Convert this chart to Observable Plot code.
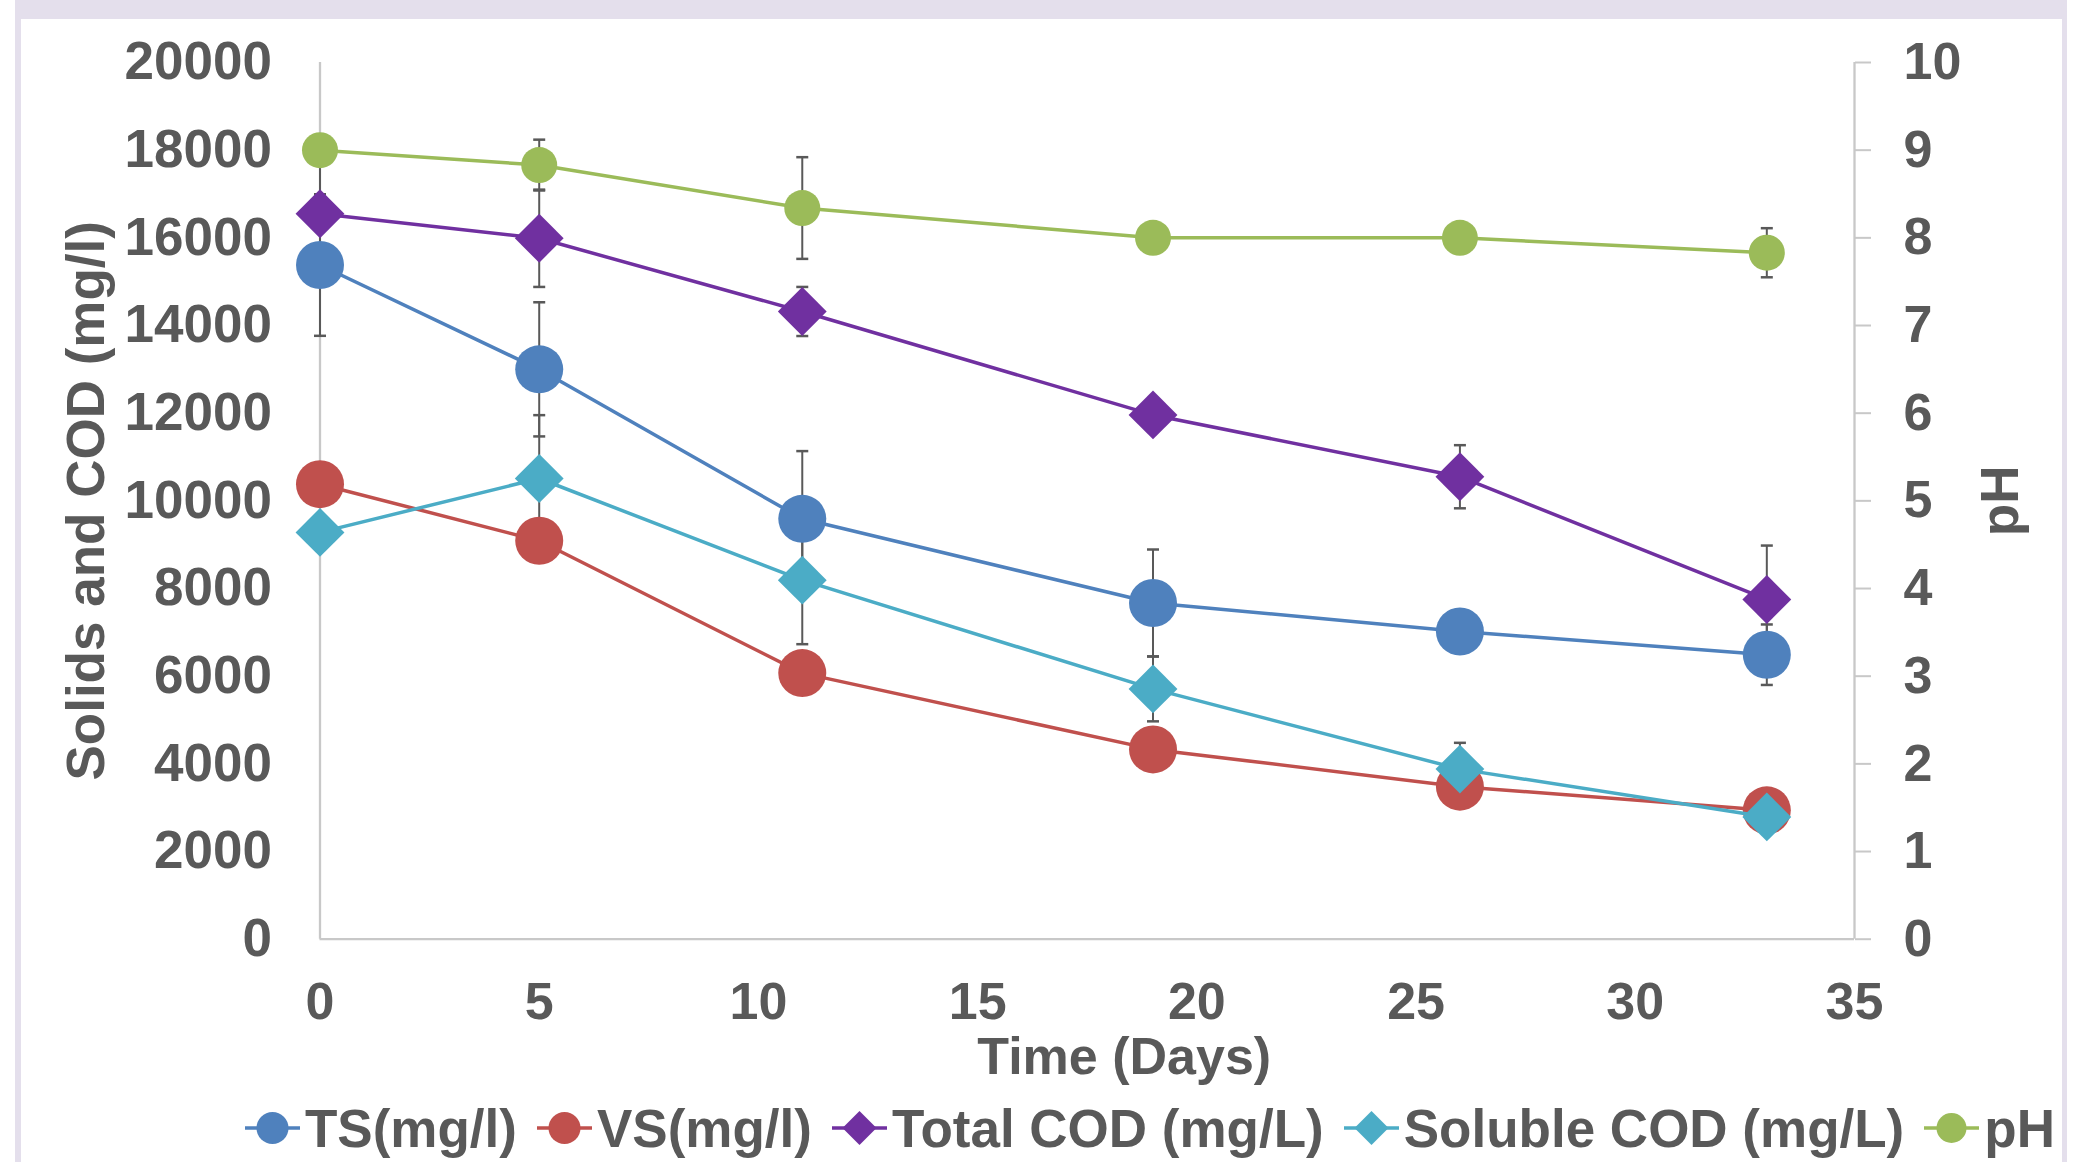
<!DOCTYPE html>
<html>
<head>
<meta charset="utf-8">
<script src="https://cdn.jsdelivr.net/npm/d3@7"></script>
<script src="https://cdn.jsdelivr.net/npm/@observablehq/plot@0.6"></script>
<style>
html, body { margin: 0; padding: 0; background: #fff; overflow: hidden; }
#wrap { position: relative; width: 2090px; height: 1162px; }
#frame { position: absolute; left: 15px; top: 0; width: 2052px; height: 1162px; background: #e4dfec; }
#inner { position: absolute; left: 6px; top: 19px; width: 2041px; height: 1143px; background: #fff; }
#chart { position: absolute; left: 0; top: 0; }
#chart svg { font-family: "Liberation Sans", Arial, sans-serif; font-weight: 700; overflow: visible; }
#legend { position: absolute; left: 245px; top: 1098px; height: 60px; display: flex; align-items: center;
  font-family: "Liberation Sans", Arial, sans-serif; font-weight: 700; font-size: 53px; color: #595959; white-space: nowrap; }
.item { display: flex; align-items: center; margin-right: 20px; }
.item svg { margin-right: 5px; display: block; }
</style>
</head>
<body>
<div id="wrap">
  <div id="frame"><div id="inner"></div></div>
  <div id="chart"></div>
  <div id="legend"></div>
</div>
<script>
// ---- data ----
const days = [0, 5, 11, 19, 26, 33];
const tsValues   = [15380, 13000, 9590, 7670, 7020, 6490];
const tsErr      = [1615, 1530, 1545, 1220, 0, 690];
const vsValues   = [10380, 9090, 6070, 4330, 3480, 2940];
const vsErr      = [0, 0, 0, 0, 0, 0];
const tcodValues = [16550, 15990, 14320, 11960, 10550, 7750];
const tcodErr    = [1150, 1110, 560, 0, 720, 1230];
const scodValues = [9280, 10510, 8190, 5710, 3880, 2790];
const scodErr    = [0, 1445, 1460, 740, 600, 0];
const phValues   = [9.00, 8.83, 8.34, 8.00, 8.00, 7.83];
const phErr      = [0, 0.29, 0.58, 0, 0, 0.28];

const xTicks  = [0, 5, 10, 15, 20, 25, 30, 35];
const yTicks  = [0, 2000, 4000, 6000, 8000, 10000, 12000, 14000, 16000, 18000, 20000];
const phTicks = [0, 1, 2, 3, 4, 5, 6, 7, 8, 9, 10];
const seriesNames = ["TS(mg/l)", "VS(mg/l)", "Total COD (mg/L)", "Soluble COD (mg/L)", "pH"];
const xTitle = "Time (Days)";
const yTitle = "Solids and COD (mg/l)";
const y2Title = "pH";

// ---- scales ----
const Y_MAX = 20000, PH_MAX = 10, X_MAX = 35;
const PH_FACTOR = Y_MAX / PH_MAX;

const series = [
  {name: seriesNames[0], values: tsValues,   err: tsErr,   k: 1,         color: "#4f81bd", symbol: "circle",   r: 24, lr: 16},
  {name: seriesNames[1], values: vsValues,   err: vsErr,   k: 1,         color: "#c0504d", symbol: "circle",   r: 24, lr: 16},
  {name: seriesNames[2], values: tcodValues, err: tcodErr, k: 1,         color: "#7030a0", symbol: "diamond2", r: 22, lr: 17},
  {name: seriesNames[3], values: scodValues, err: scodErr, k: 1,         color: "#4bacc6", symbol: "diamond2", r: 22, lr: 17},
  {name: seriesNames[4], values: phValues,   err: phErr,   k: PH_FACTOR, color: "#9bbb59", symbol: "circle",   r: 18, lr: 15}
];

const rowsOf = s => days.map((day, i) => ({
  day,
  y: s.values[i] * s.k,
  lo: (s.values[i] - s.err[i]) * s.k,
  hi: (s.values[i] + s.err[i]) * s.k,
  err: s.err[i]
}));

const capSymbol = { draw(ctx, size) { ctx.moveTo(-6, 0); ctx.lineTo(6, 0); } };
const ERR = "#595959", AXIS = "#c8c8c8", TEXT = "#595959";

const errMarks = series.flatMap(s => {
  const d = rowsOf(s).filter(r => r.err > 0);
  return [
    Plot.ruleX(d, {x: "day", y1: "lo", y2: "hi", stroke: ERR, strokeWidth: 2}),
    Plot.dot(d, {x: "day", y: "lo", symbol: capSymbol, r: 6, stroke: ERR, fill: "none", strokeWidth: 2.5}),
    Plot.dot(d, {x: "day", y: "hi", symbol: capSymbol, r: 6, stroke: ERR, fill: "none", strokeWidth: 2.5})
  ];
});

const seriesMarks = series.flatMap(s => [
  Plot.line(rowsOf(s), {x: "day", y: "y", stroke: s.color, strokeWidth: 3.5}),
  Plot.dot(rowsOf(s), {x: "day", y: "y", symbol: s.symbol, r: s.r, fill: s.color, stroke: "none"})
]);

const H = 1095;
const chart = Plot.plot({
  width: 2090,
  height: H,
  marginLeft: 319.5,
  marginRight: 236,
  marginTop: 62,
  marginBottom: H - 938.7,
  x: {domain: [0, X_MAX], axis: null},
  y: {domain: [0, Y_MAX], axis: null},
  style: {background: "transparent", color: TEXT, overflow: "visible"},
  marks: [
    Plot.ruleX([0], {stroke: AXIS, strokeWidth: 2.3}),
    Plot.ruleX([X_MAX], {stroke: AXIS, strokeWidth: 2.3}),
    Plot.ruleY([0], {stroke: AXIS, strokeWidth: 2.3}),
    Plot.axisX({ticks: xTicks, tickSize: 0, tickPadding: 43, fontSize: 52, fill: TEXT, label: null, tickFormat: d => String(d)}),
    Plot.axisY({anchor: "left", ticks: yTicks, tickSize: 0, tickPadding: 48, fontSize: 53, fill: TEXT, label: null, tickFormat: d => String(d)}),
    Plot.axisY({anchor: "right", ticks: phTicks.map(v => v * PH_FACTOR), tickFormat: v => String(v / PH_FACTOR),
      tickSize: 16, tickPadding: 33, stroke: AXIS, strokeWidth: 2, fontSize: 52, fill: TEXT, label: null}),
    ...errMarks,
    ...seriesMarks,
    Plot.text([yTitle], {text: d => d, frameAnchor: "left", textAnchor: "middle", rotate: -90, dx: -233, lineAnchor: "middle", fontSize: 53, fill: TEXT}),
    Plot.text([y2Title], {text: d => d, frameAnchor: "right", textAnchor: "middle", rotate: -90, dx: 147, lineAnchor: "middle", fontSize: 53, fill: TEXT}),
    Plot.text([xTitle], {text: d => d, frameAnchor: "bottom", textAnchor: "middle", dx: 37, dy: 118, lineAnchor: "middle", fontSize: 52, fill: TEXT})
  ]
});
document.getElementById("chart").appendChild(chart);

// ---- legend ----
const legend = document.getElementById("legend");
const NS = "http://www.w3.org/2000/svg";
series.forEach(s => {
  const item = document.createElement("div");
  item.className = "item";
  const svg = document.createElementNS(NS, "svg");
  svg.setAttribute("width", 55);
  svg.setAttribute("height", 40);
  const line = document.createElementNS(NS, "line");
  line.setAttribute("x1", 0); line.setAttribute("x2", 55);
  line.setAttribute("y1", 20); line.setAttribute("y2", 20);
  line.setAttribute("stroke", s.color); line.setAttribute("stroke-width", 3.5);
  svg.appendChild(line);
  let m;
  if (s.symbol === "circle") {
    m = document.createElementNS(NS, "circle");
    m.setAttribute("cx", 27.5); m.setAttribute("cy", 20); m.setAttribute("r", s.lr);
  } else {
    m = document.createElementNS(NS, "polygon");
    const c = 27.5, y = 20, h = s.lr;
    m.setAttribute("points", `${c},${y - h} ${c + h},${y} ${c},${y + h} ${c - h},${y}`);
  }
  m.setAttribute("fill", s.color);
  svg.appendChild(m);
  item.appendChild(svg);
  const t = document.createElement("span");
  t.textContent = s.name;
  item.appendChild(t);
  legend.appendChild(item);
});
</script>
</body>
</html>
